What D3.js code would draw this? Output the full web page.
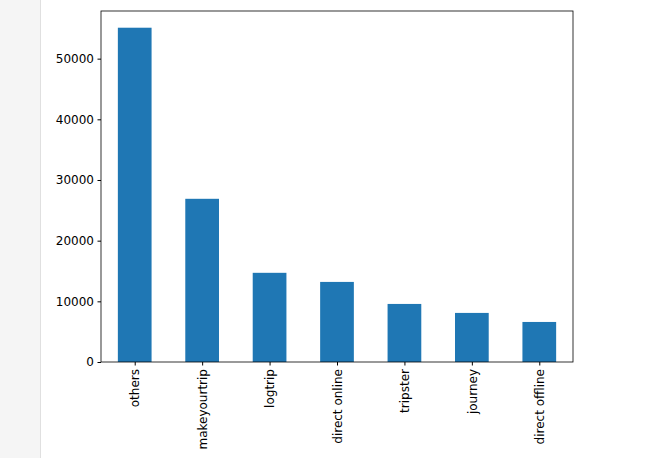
<!DOCTYPE html>
<html><head><meta charset="utf-8">
<script src="https://cdn.jsdelivr.net/npm/d3@7"></script>
<style>body{margin:0;background:#fff;overflow:hidden}</style>
</head><body>
<script>
const categories = ["others","makeyourtrip","logtrip","direct online","tripster","journey","direct offline"];
const counts = [55100, 26900, 14700, 13200, 9570, 8090, 6600];
const yTicks = [0,10000,20000,30000,40000,50000];

const svg = d3.select("body").append("svg").attr("width",650).attr("height",458);
// notebook gutter on the left
svg.append("rect").attr("x",0).attr("y",0).attr("width",40).attr("height",458).attr("fill","#f5f5f5");
svg.append("line").attr("x1",40.5).attr("x2",40.5).attr("y1",0).attr("y2",458).attr("stroke","#e0e0e0");

const pLeft = 101, pRight = 573, pTop = 11, pBottom = 362;
const x = d3.scaleLinear().domain([-0.5, categories.length-0.5]).range([pLeft,pRight]);
const y = d3.scaleLinear().domain([0, 57855]).range([pBottom, pTop]);

const g = svg.append("g").style("font-family","DejaVu Sans").style("font-size","12px");

g.selectAll("rect.bar").data(counts).join("rect").attr("class","bar")
  .attr("x",(d,i)=>x(i-0.25)).attr("width",x(0.25)-x(-0.25))
  .attr("y",d=>y(d)).attr("height",d=>pBottom-y(d)).attr("fill","#1f77b4");

const ya = g.append("g").attr("transform",`translate(${pLeft},0)`)
  .call(d3.axisLeft(y).tickValues(yTicks).tickFormat(d3.format("d")).tickSize(3.5).tickPadding(3.5));
const xa = g.append("g").attr("transform",`translate(0,${pBottom})`)
  .call(d3.axisBottom(x).tickValues(d3.range(categories.length)).tickFormat(i=>categories[i]).tickSize(3.5));
[ya,xa].forEach(a=>{a.select(".domain").remove();a.selectAll("text").attr("fill","#000").style("font-size","12px").style("font-family","DejaVu Sans");});
xa.selectAll("text").attr("transform","rotate(-90)").attr("text-anchor","end")
  .attr("x",-7).attr("y",0).attr("dy","0.35em");

g.append("rect").attr("x",pLeft).attr("y",pTop).attr("width",pRight-pLeft).attr("height",pBottom-pTop)
  .attr("fill","none").attr("stroke","#000").attr("stroke-width",0.8);
</script>
</body></html>
